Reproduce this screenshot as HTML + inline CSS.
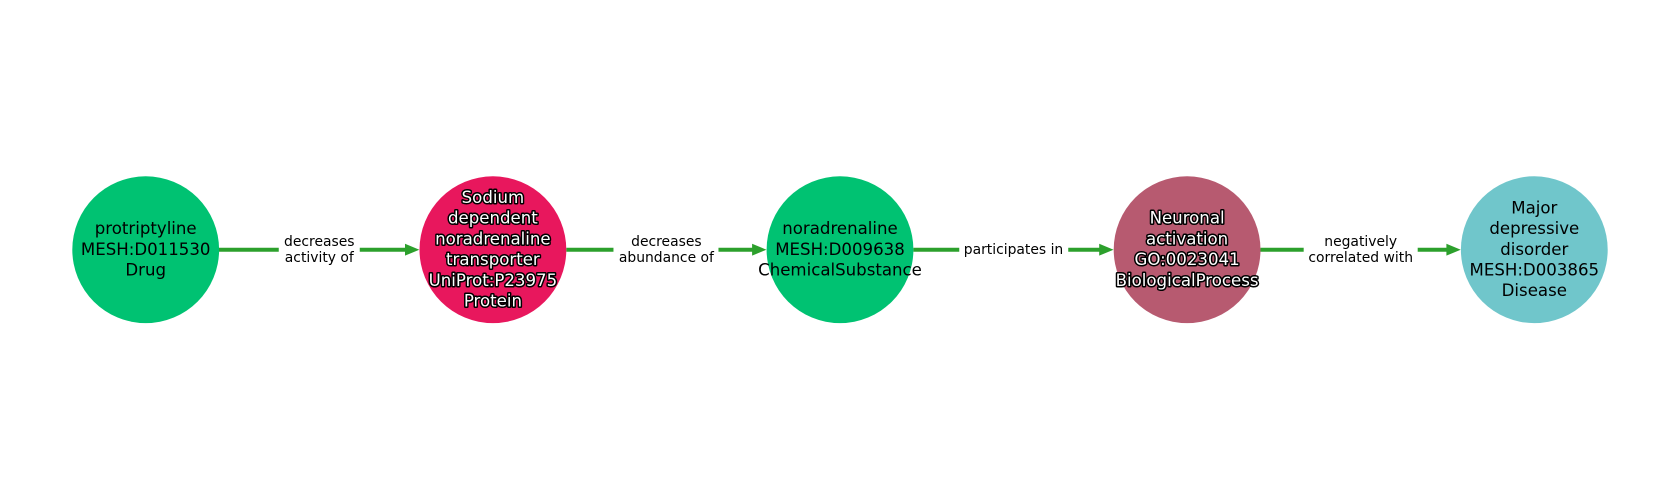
<!DOCTYPE html>
<html>
<head>
<meta charset="utf-8">
<style>
  html,body{margin:0;padding:0;background:#fff;}
  #wrap{position:relative;width:1680px;height:500px;overflow:hidden;background:#fff;}
  svg{position:absolute;left:0;top:0;}
  .el{position:absolute;transform:translate(-50%,-50%);background:#fff;padding:0 5px;
      font-family:"DejaVu Sans","Liberation Sans",sans-serif;font-size:13.9px;line-height:16.2px;
      color:#000;text-align:center;white-space:nowrap;}
  .nl{font-family:"DejaVu Sans","Liberation Sans",sans-serif;font-size:16.6px;}
</style>
</head>
<body>
<div id="wrap">
<svg width="1680" height="500" viewBox="0 0 1680 500" xmlns="http://www.w3.org/2000/svg">
  <g stroke="#2ca02c" stroke-width="4" fill="none">
    <line x1="219" y1="249.7" x2="407" y2="249.7"/>
    <line x1="566.3" y1="249.7" x2="754" y2="249.7"/>
    <line x1="913.4" y1="249.7" x2="1101" y2="249.7"/>
    <line x1="1260.5" y1="249.7" x2="1448" y2="249.7"/>
  </g>
  <g fill="#2ca02c" stroke="#2ca02c" stroke-width="1" stroke-linejoin="miter">
    <polygon points="418,249.7 405.5,244.5 405.5,254.9"/>
    <polygon points="765.1,249.7 752.6,244.5 752.6,254.9"/>
    <polygon points="1112.2,249.7 1099.7,244.5 1099.7,254.9"/>
    <polygon points="1459.4,249.7 1446.9,244.5 1446.9,254.9"/>
  </g>
  <circle cx="145.7" cy="249.7" r="73.4" fill="#00c272"/>
  <circle cx="492.9" cy="249.7" r="73.4" fill="#e8175d"/>
  <circle cx="840" cy="249.7" r="73.4" fill="#00c272"/>
  <circle cx="1187.1" cy="249.7" r="73.4" fill="#b75a70"/>
  <circle cx="1534.3" cy="249.7" r="73.4" fill="#70c6cb"/>

  <g class="nl" text-anchor="middle" fill="#000">
    <text x="145.7" y="234.1">protriptyline</text>
    <text x="145.7" y="254.8">MESH:D011530</text>
    <text x="145.7" y="275.5">Drug</text>

    <text x="840" y="234.1">noradrenaline</text>
    <text x="840" y="254.8">MESH:D009638</text>
    <text x="840" y="275.5">ChemicalSubstance</text>

    <text x="1534.3" y="213.4">Major</text>
    <text x="1534.3" y="234.1">depressive</text>
    <text x="1534.3" y="254.8">disorder</text>
    <text x="1534.3" y="275.5">MESH:D003865</text>
    <text x="1534.3" y="296.2">Disease</text>
  </g>
  <g class="nl" text-anchor="middle" fill="#fff" stroke="#000" stroke-width="3" stroke-linejoin="round" paint-order="stroke">
    <text x="492.9" y="203.0">Sodium</text>
    <text x="492.9" y="223.7">dependent</text>
    <text x="492.9" y="244.4">noradrenaline</text>
    <text x="492.9" y="265.1">transporter</text>
    <text x="492.9" y="285.8">UniProt:P23975</text>
    <text x="492.9" y="306.5">Protein</text>

    <text x="1187.1" y="223.7">Neuronal</text>
    <text x="1187.1" y="244.4">activation</text>
    <text x="1187.1" y="265.1">GO:0023041</text>
    <text x="1187.1" y="285.8">BiologicalProcess</text>
  </g>
</svg>
<div class="el" style="left:319.3px;top:249.5px;">decreases<br>activity of</div>
<div class="el" style="left:666.4px;top:249.5px;">decreases<br>abundance of</div>
<div class="el" style="left:1013.5px;top:250px;">participates in</div>
<div class="el" style="left:1360.7px;top:249.5px;">negatively<br>correlated with</div>
</div>
</body>
</html>
